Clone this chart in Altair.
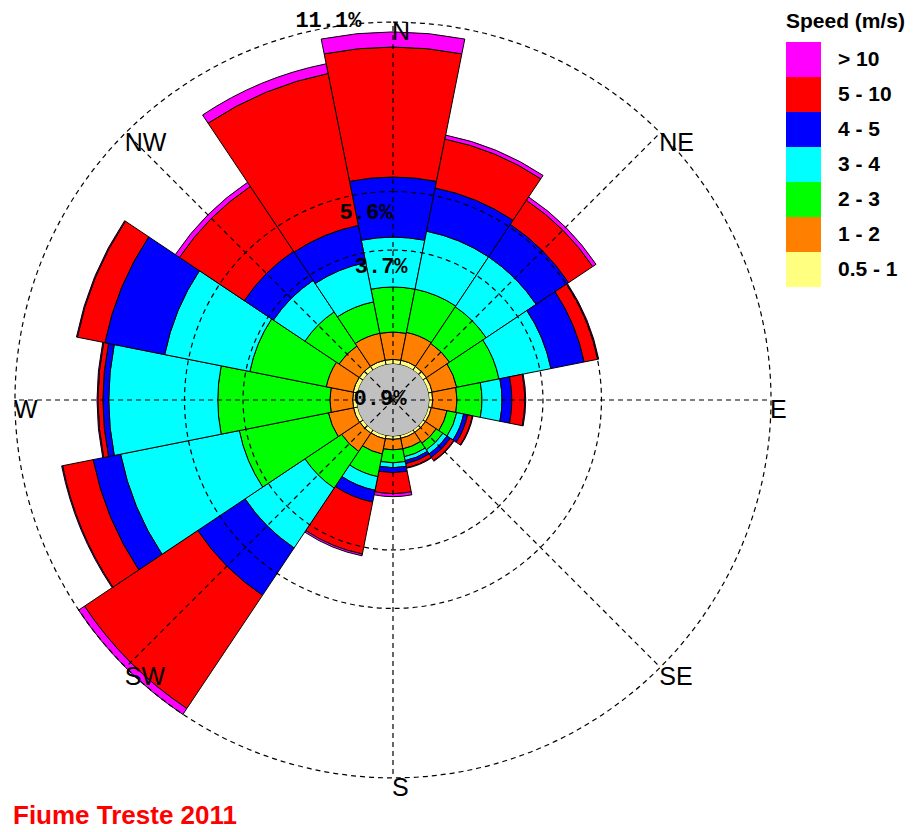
import math
import altair as alt
import pandas as pd

# ---------------- data ----------------
directions = ["N", "NNE", "NE", "ENE", "E", "ESE", "SE", "SSE",
              "S", "SSW", "SW", "WSW", "W", "WNW", "NW", "NNW"]

# frequency (%) per speed class, per direction (N .. NNW, clockwise)
pct_05_1 = [0.15, 0.15, 0.14, 0.13, 0.12, 0.10, 0.10, 0.10,
            0.11, 0.12, 0.13, 0.14, 0.14, 0.15, 0.15, 0.15]
pct_1_2 = [0.89, 0.92, 0.90, 0.81, 0.79, 0.52, 0.42, 0.35,
           0.34, 0.50, 0.71, 0.83, 0.74, 0.89, 0.79, 0.89]
pct_2_3 = [1.46, 1.43, 1.43, 1.40, 0.81, 0.32, 0.26, 0.26,
           0.42, 0.75, 1.43, 2.95, 3.64, 2.53, 1.33, 1.04]
pct_3_4 = [1.62, 1.92, 1.95, 1.72, 0.65, 0.23, 0.16, 0.13,
           0.16, 0.45, 2.34, 3.93, 3.54, 2.82, 1.23, 1.30]
pct_4_5 = [1.95, 1.43, 1.27, 1.10, 0.32, 0.13, 0.13, 0.10,
           0.16, 0.39, 1.85, 0.91, 0.19, 1.98, 1.14, 1.23]
pct_5_10 = [4.22, 1.62, 0.94, 0.45, 0.42, 0.16, 0.13, 0.13,
            0.68, 1.72, 4.42, 1.01, 0.16, 0.91, 2.53, 5.03]
pct_gt10 = [0.49, 0.13, 0.13, 0.03, 0.03, 0.02, 0.02, 0.02,
            0.10, 0.06, 0.23, 0.03, 0.03, 0.03, 0.16, 0.32]

speed_classes = ["0.5 - 1", "1 - 2", "2 - 3", "3 - 4", "4 - 5", "5 - 10", "> 10"]
class_colors = ["#FFFF80", "#FF8000", "#00FF00", "#00FFFF", "#0000FF", "#FF0000", "#FF00FF"]

calm_pct = 0.9
ring_values = [3.7, 5.6, 11.1]
ring_labels = ["3.7%", "5.6%", "11.1%"]
compass_labels = ["N", "NE", "E", "SE", "S", "SW", "W", "NW"]
legend_title = "Speed (m/s)"
chart_title = "Fiume Treste 2011"

# ---------------- layout constants ----------------
W, H = 770, 784
R0 = 36.0            # radius of calm circle (px)
PX_PER_PCT = 30.8    # px per percent
R_MAX_PCT = 11.1
R_MAX = R0 + PX_PER_PCT * R_MAX_PCT
SECTOR = 360.0 / len(directions)

rscale = alt.Scale(type="linear", domain=[0, R_MAX_PCT], range=[R0, R_MAX], zero=False, nice=False)
tscale = alt.Scale(type="linear", domain=[0, 360], range=[0, 2 * math.pi], zero=False, nice=False)

# ---------------- tables ----------------
series = [pct_05_1, pct_1_2, pct_2_3, pct_3_4, pct_4_5, pct_5_10, pct_gt10]
rows = []
for i, d in enumerate(directions):
    cum = 0.0
    for cls, vals in zip(speed_classes, series):
        v = vals[i]
        rows.append({"dir": d, "speed": cls, "start": cum, "end": cum + v,
                     "t0": i * SECTOR - SECTOR / 2, "t1": i * SECTOR + SECTOR / 2})
        cum += v
bars_df = pd.DataFrame(rows)

legend_order = speed_classes[::-1]
legend_colors = class_colors[::-1]

bars = alt.Chart(bars_df).mark_arc(stroke="black", strokeWidth=1).encode(
    theta=alt.Theta("t0:Q", scale=tscale, stack=False),
    theta2="t1:Q",
    radius=alt.Radius("end:Q", scale=rscale),
    radius2="start:Q",
    color=alt.Color("speed:N",
                    scale=alt.Scale(domain=legend_order, range=legend_colors),
                    legend=alt.Legend(
                        title=legend_title, orient="none", legendX=778, legendY=3,
                        symbolType="square", symbolSize=1225, symbolStrokeWidth=0,
                        symbolOpacity=1, rowPadding=0, labelOffset=17,
                        labelFont="Liberation Sans", labelFontSize=21, labelFontWeight="bold",
                        labelColor="black", titleFont="Liberation Sans", titleFontSize=21,
                        titleFontWeight="bold", titleColor="black", titlePadding=10)),
)

calm_df = pd.DataFrame({"calm": [calm_pct], "base": [0.0], "a0": [0.0], "a1": [360.0]})
calm = alt.Chart(calm_df).mark_arc(fill="#C0C0C0").encode(
    theta=alt.Theta("a0:Q", scale=tscale, stack=False), theta2="a1:Q",
    radius=alt.Radius("base:Q", scale=rscale),
    radius2=alt.value(0),
)

ring_layers = []
for v in ring_values:
    rdf = pd.DataFrame({"ring": [v], "a0": [0.0], "a1": [360.0]})
    ring_layers.append(
        alt.Chart(rdf).mark_arc(fill="white", fillOpacity=0, stroke="black",
                                strokeDash=[5, 4], strokeWidth=1.2).encode(
            theta=alt.Theta("a0:Q", scale=tscale, stack=False), theta2="a1:Q",
            radius=alt.Radius("ring:Q", scale=rscale),
            radius2=alt.value(0),
        )
    )

# radial spokes (every 45 deg) from centre to outer circle
spoke_angles = [k * 45 for k in range(8)]
spokes_df = pd.DataFrame({
    "x0": [0.0] * 8, "y0": [0.0] * 8,
    "x1": [R_MAX * math.sin(math.radians(a)) for a in spoke_angles],
    "y1": [R_MAX * math.cos(math.radians(a)) for a in spoke_angles],
})
xs = alt.Scale(domain=[-W / 2, W / 2], zero=False, nice=False)
ys = alt.Scale(domain=[-H / 2, H / 2], zero=False, nice=False)
spokes = alt.Chart(spokes_df).mark_rule(color="black", strokeDash=[5, 4], strokeWidth=1.2).encode(
    x=alt.X("x0:Q", scale=xs, axis=None), y=alt.Y("y0:Q", scale=ys, axis=None),
    x2="x1:Q", y2="y1:Q",
)

comp_df = pd.DataFrame({"lab": compass_labels, "ang": spoke_angles, "r": [R_MAX_PCT] * 8})
compass = alt.Chart(comp_df).mark_text(align="left", baseline="top", font="Liberation Sans",
                                       fontSize=25, color="black", dx=-1, dy=-2).encode(
    theta=alt.Theta("ang:Q", scale=tscale, stack=False),
    radius=alt.Radius("r:Q", scale=rscale),
    text="lab:N",
)

label_offsets = {3.7: (9, 15), 5.6: (2, 18), 11.1: (-12, -6)}
ring_text_layers = []
for v, lab in zip(ring_values, ring_labels):
    dxv, dyv = label_offsets[v]
    ring_text_layers.append(
        alt.Chart(pd.DataFrame({"ring": [v], "label": [lab], "ang": [352.0]})).mark_text(
            align="center", baseline="middle", font="Liberation Mono", fontWeight="bold",
            fontSize=22, color="black", dx=dxv, dy=dyv).encode(
            theta=alt.Theta("ang:Q", scale=tscale, stack=False),
            radius=alt.Radius("ring:Q", scale=rscale),
            text="label:N")
    )

calm_text = alt.Chart(calm_df).transform_calculate(lab="format(datum.calm, '.1f') + '%'").mark_text(
    align="center", baseline="middle", font="Liberation Mono", fontWeight="bold",
    fontSize=22, color="black", dx=-13, dy=-2).encode(
    theta=alt.value(0), radius=alt.value(0), text="lab:N")

title_text = alt.Chart(pd.DataFrame({"t": [chart_title]})).mark_text(
    align="left", baseline="alphabetic", font="Liberation Sans", fontWeight="bold",
    fontSize=26, color="#FF0000").encode(
    x=alt.value(5), y=alt.value(816), text="t:N")

chart = alt.layer(bars, calm, *ring_layers, spokes, compass, calm_text, *ring_text_layers,
                  title_text).properties(
    width=W, height=H,
    padding={"left": 0, "top": 0, "right": 130, "bottom": 40},
    autosize=alt.AutoSizeParams(type="none"),
).configure_view(strokeWidth=0)

chart.save("out.html", embed_options={"renderer": "svg", "actions": False})
